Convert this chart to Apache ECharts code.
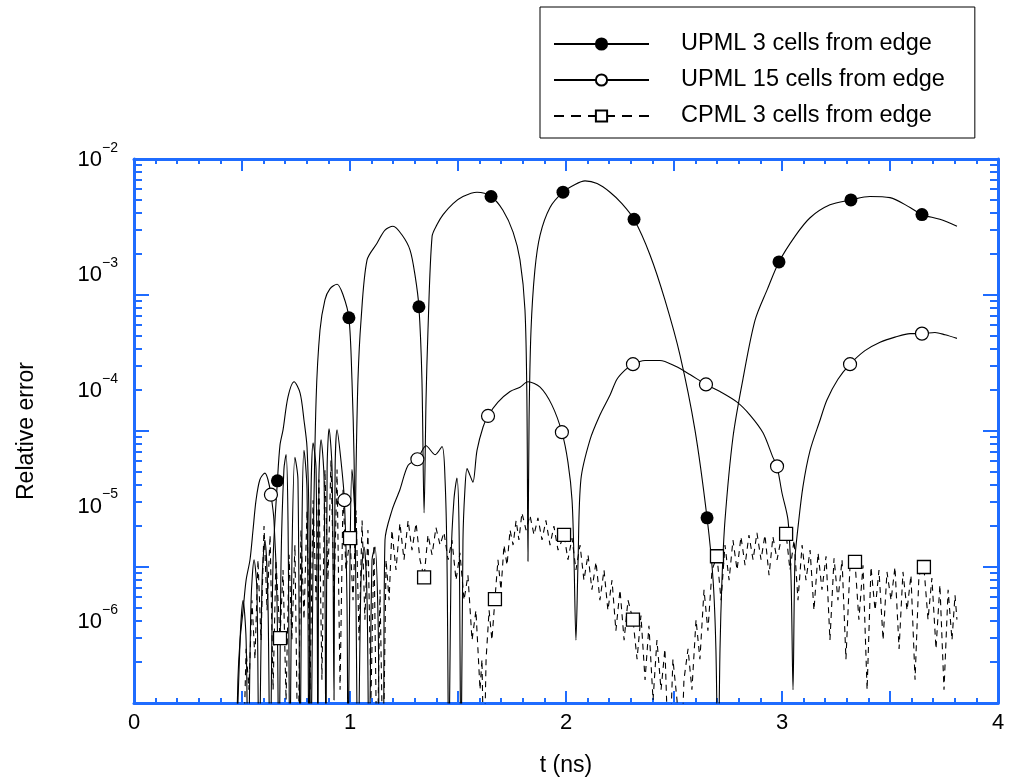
<!DOCTYPE html>
<html>
<head>
<meta charset="utf-8">
<title>Relative error vs time</title>
<script src="https://cdn.jsdelivr.net/npm/echarts@6/dist/echarts.min.js"></script>
<style>
  html, body { margin: 0; padding: 0; background: #fff; }
  #chart { width: 1020px; height: 782px; }
</style>
</head>
<body>
<div id="chart"></div>
<script>
// ---- data: [t (ns), relative error] ----
const upml3 = [
  [0.472,3e-7],[0.491,2.9e-6],[0.505,5.7e-6],[0.519,2.9e-6],[0.528,3e-7],[0.542,5.7e-6],[0.556,1.13e-5],
  [0.569,6.8e-6],[0.579,3e-7],[0.593,8.0e-6],[0.606,1.58e-5],[0.620,5.7e-6],[0.630,3e-7],[0.644,1.13e-5],
  [0.664,4.3e-5],[0.676,7.9e-5],[0.690,1.02e-4],[0.713,1.78e-4],[0.741,2.3e-4],[0.769,1.9e-4],[0.787,1.2e-4],
  [0.801,7.6e-5],[0.810,2.2e-5],[0.819,3e-7],[0.829,1.13e-5],[0.843,1.69e-4],[0.861,5.5e-4],[0.884,9.2e-4],
  [0.907,1.11e-3],[0.940,1.2e-3],[0.968,1.0e-3],[0.995,6.8e-4],[1.009,2.4e-4],[1.019,6.1e-5],[1.023,1.27e-5],
  [1.028,5.2e-5],[1.037,2.4e-4],[1.051,6.5e-4],[1.079,1.81e-3],[1.125,2.4e-3],[1.162,3.0e-3],[1.199,3.2e-3],
  [1.241,2.76e-3],[1.278,2.14e-3],[1.301,1.40e-3],[1.319,8.2e-4],[1.333,2.4e-4],[1.343,2.5e-5],[1.352,1.69e-4],
  [1.361,5.5e-4],[1.380,2.7e-3],[1.403,3.3e-3],[1.431,3.9e-3],[1.477,4.7e-3],[1.523,5.3e-3],[1.588,5.7e-3],
  [1.653,5.3e-3],[1.708,4.2e-3],[1.755,2.9e-3],[1.787,1.81e-3],[1.810,7.8e-4],[1.819,1.69e-4],[1.824,1.1e-5],
  [1.829,1.2e-4],[1.838,5.5e-4],[1.856,1.53e-3],[1.880,2.76e-3],[1.926,4.4e-3],[1.986,5.7e-3],[2.042,6.5e-3],
  [2.088,6.9e-3],[2.144,6.6e-3],[2.204,5.7e-3],[2.259,4.7e-3],[2.315,3.6e-3],[2.389,1.97e-3],[2.458,9.2e-4],
  [2.528,3.6e-4],[2.597,1.02e-4],[2.653,2.3e-5],[2.681,8.0e-6],[2.694,2.5e-6],[2.704,3e-7],[2.713,2.5e-6],
  [2.722,8.0e-6],[2.736,2.2e-5],[2.773,9.0e-5],[2.819,2.4e-4],[2.875,6.5e-4],[2.931,1.09e-3],[2.986,1.75e-3],
  [3.060,2.7e-3],[3.130,3.7e-3],[3.222,4.6e-3],[3.319,5.0e-3],[3.407,5.3e-3],[3.500,5.2e-3],[3.593,4.4e-3],
  [3.648,3.9e-3],[3.731,3.6e-3],[3.810,3.2e-3]
];
const upml3Marks = [0.664, 0.995, 1.319, 1.653, 1.986, 2.315, 2.653, 2.986, 3.319, 3.648];

const upml15 = [
  [0.472,3e-7],[0.481,1.48e-6],[0.491,2.9e-6],[0.505,4.8e-6],[0.519,8.0e-6],[0.537,1.13e-5],[0.551,1.87e-5],
  [0.565,3.1e-5],[0.583,4.4e-5],[0.606,4.9e-5],[0.620,4.4e-5],[0.634,3.4e-5],[0.648,2.2e-5],[0.662,5.7e-6],
  [0.671,3e-7],[0.681,1.13e-5],[0.694,5.2e-5],[0.704,6.7e-5],[0.713,2.2e-5],[0.722,3e-7],[0.731,1.13e-5],
  [0.745,6.4e-5],[0.759,4.4e-5],[0.769,3e-7],[0.778,2.2e-5],[0.787,7.2e-5],[0.801,3.7e-5],[0.810,3e-7],
  [0.819,3.1e-5],[0.829,8.2e-5],[0.843,5.2e-5],[0.852,3e-7],[0.856,4.4e-5],[0.866,8.6e-5],[0.880,4.4e-5],
  [0.889,3e-7],[0.894,5.2e-5],[0.903,1.04e-4],[0.917,5.2e-5],[0.926,1.05e-6],[0.931,5.2e-5],[0.940,1.02e-4],
  [0.958,6.1e-5],[0.974,3.1e-5],[0.986,5.7e-6],[0.991,3e-7],[1.000,1.13e-5],[1.009,5.2e-5],[1.023,2.2e-5],
  [1.037,3e-7],[1.051,8.0e-6],[1.065,1.4e-5],[1.079,5.7e-6],[1.088,3e-7],[1.102,1.13e-5],[1.116,1.4e-5],
  [1.130,4.1e-6],[1.139,3e-7],[1.153,3e-7],[1.162,1.58e-5],[1.194,2.6e-5],[1.231,3.7e-5],[1.269,5.6e-5],
  [1.312,6.2e-5],[1.352,7.8e-5],[1.394,6.7e-5],[1.426,7.7e-5],[1.440,4.4e-5],[1.449,1.13e-5],[1.458,3e-7],
  [1.468,1.13e-5],[1.481,3.1e-5],[1.495,4.5e-5],[1.505,1.87e-5],[1.514,3e-7],[1.523,1.58e-5],[1.532,3.7e-5],
  [1.542,5.3e-5],[1.556,4.7e-5],[1.569,4.2e-5],[1.588,7.2e-5],[1.616,1.07e-4],[1.639,1.29e-4],[1.685,1.63e-4],
  [1.741,1.95e-4],[1.787,2.1e-4],[1.824,2.3e-4],[1.880,2.1e-4],[1.935,1.55e-4],[1.981,9.8e-5],[2.009,5.9e-5],
  [2.028,3.1e-5],[2.037,1.13e-5],[2.046,2.9e-6],[2.056,1.13e-5],[2.069,4.4e-5],[2.111,8.6e-5],[2.157,1.31e-4],
  [2.204,1.84e-4],[2.236,2.4e-4],[2.273,2.8e-4],[2.310,3.1e-4],[2.366,3.3e-4],[2.435,3.3e-4],[2.505,3.0e-4],
  [2.574,2.6e-4],[2.648,2.2e-4],[2.713,1.95e-4],[2.792,1.63e-4],[2.852,1.31e-4],[2.912,9.7e-5],[2.958,6.4e-5],
  [2.977,5.5e-5],[3.000,3.5e-5],[3.028,2.2e-5],[3.042,8.0e-6],[3.051,1.25e-6],[3.060,1.13e-5],[3.074,1.95e-5],
  [3.097,3.9e-5],[3.130,7.2e-5],[3.176,1.2e-4],[3.208,1.69e-4],[3.259,2.4e-4],[3.315,3.1e-4],[3.384,3.9e-4],
  [3.454,4.5e-4],[3.523,4.9e-4],[3.593,5.2e-4],[3.648,5.2e-4],[3.708,5.3e-4],[3.755,5.1e-4],[3.810,4.8e-4]
];
const upml15Marks = [0.634, 0.974, 1.312, 1.639, 1.981, 2.310, 2.648, 2.977, 3.315, 3.648];

const cpml3 = [
  [0.505,3e-7],[0.519,2.5e-6],[0.532,1.25e-6],[0.546,5.7e-6],[0.560,2.1e-6],[0.574,1.13e-5],[0.588,2.9e-6],
  [0.602,2.0e-5],[0.616,4.8e-6],[0.630,1.72e-5],[0.644,1.25e-6],[0.657,1.13e-5],[0.676,3.0e-6],[0.690,9.5e-6],
  [0.704,1.05e-6],[0.718,1.23e-5],[0.731,2.9e-6],[0.745,1.45e-5],[0.759,3e-7],[0.773,1.87e-5],[0.787,4.1e-6],
  [0.801,2.6e-5],[0.815,1.25e-6],[0.829,3.1e-5],[0.843,5.7e-6],[0.856,4.4e-5],[0.870,1.48e-6],[0.884,5.2e-5],
  [0.898,8.0e-6],[0.912,6.1e-5],[0.926,5.7e-6],[0.940,5.2e-5],[0.954,1.25e-6],[0.968,3.7e-5],[0.981,9.5e-6],
  [1.000,1.63e-5],[1.014,5.7e-6],[1.028,2.6e-5],[1.042,2.9e-6],[1.056,2.2e-5],[1.069,4.1e-6],[1.083,1.87e-5],
  [1.097,1.05e-6],[1.111,1.45e-5],[1.125,3e-7],[1.139,6.8e-6],[1.153,3e-7],[1.167,1.13e-5],[1.181,5.7e-6],
  [1.194,1.87e-5],[1.213,9.5e-6],[1.231,2.1e-5],[1.250,1.13e-5],[1.269,2.2e-5],[1.287,1.33e-5],[1.306,2.1e-5],
  [1.324,1.13e-5],[1.343,8.4e-6],[1.361,1.72e-5],[1.380,1.23e-5],[1.398,1.95e-5],[1.417,1.45e-5],[1.435,1.8e-5],
  [1.454,1.13e-5],[1.472,1.58e-5],[1.491,8.0e-6],[1.509,1.27e-5],[1.528,5.7e-6],[1.546,8.7e-6],[1.565,2.9e-6],
  [1.583,4.8e-6],[1.602,1.25e-6],[1.611,2.1e-6],[1.620,3e-7],[1.630,2.1e-6],[1.644,4.8e-6],[1.657,2.9e-6],
  [1.671,5.8e-6],[1.685,1.13e-5],[1.699,6.8e-6],[1.713,1.45e-5],[1.727,1.03e-5],[1.741,1.87e-5],[1.755,1.45e-5],
  [1.769,2.2e-5],[1.782,1.58e-5],[1.796,2.5e-5],[1.815,1.87e-5],[1.833,2.4e-5],[1.852,1.72e-5],[1.870,2.3e-5],
  [1.889,1.58e-5],[1.907,2.2e-5],[1.926,1.45e-5],[1.944,2.0e-5],[1.963,1.33e-5],[1.991,1.72e-5],[2.009,1.13e-5],
  [2.028,1.63e-5],[2.046,9.5e-6],[2.065,1.45e-5],[2.083,8.0e-6],[2.102,1.23e-5],[2.120,6.8e-6],[2.139,1.09e-5],
  [2.157,5.7e-6],[2.176,9.5e-6],[2.194,4.8e-6],[2.213,8.0e-6],[2.231,3.4e-6],[2.250,6.8e-6],[2.269,2.9e-6],
  [2.287,5.7e-6],[2.310,4.1e-6],[2.329,2.1e-6],[2.347,4.4e-6],[2.366,1.48e-6],[2.384,3.7e-6],[2.403,1.05e-6],
  [2.421,2.9e-6],[2.440,1.25e-6],[2.458,2.5e-6],[2.477,3e-7],[2.495,2.1e-6],[2.514,1.05e-6],[2.532,3e-7],
  [2.546,1.48e-6],[2.565,2.5e-6],[2.583,1.25e-6],[2.602,4.1e-6],[2.620,2.1e-6],[2.639,6.8e-6],[2.657,3.4e-6],
  [2.676,9.5e-6],[2.699,1.2e-5],[2.718,5.7e-6],[2.736,1.45e-5],[2.755,8.0e-6],[2.773,1.58e-5],[2.792,9.5e-6],
  [2.810,1.67e-5],[2.829,1.03e-5],[2.847,1.72e-5],[2.866,1.13e-5],[2.884,1.78e-5],[2.903,1.13e-5],[2.921,1.72e-5],
  [2.940,8.7e-6],[2.958,1.67e-5],[2.977,1.13e-5],[2.995,1.58e-5],[3.019,1.75e-5],[3.037,9.5e-6],[3.056,1.58e-5],
  [3.074,5.7e-6],[3.093,1.45e-5],[3.111,8.0e-6],[3.130,1.33e-5],[3.148,4.8e-6],[3.167,1.27e-5],[3.185,6.8e-6],
  [3.204,1.2e-5],[3.222,2.9e-6],[3.241,1.16e-5],[3.259,5.7e-6],[3.278,1.13e-5],[3.296,2.1e-6],[3.315,1.03e-5],
  [3.338,1.09e-5],[3.356,4.1e-6],[3.375,1.03e-5],[3.394,1.25e-6],[3.412,1.0e-5],[3.431,4.8e-6],[3.449,9.5e-6],
  [3.468,2.9e-6],[3.486,9.2e-6],[3.505,5.7e-6],[3.523,1.0e-5],[3.542,2.5e-6],[3.560,9.2e-6],[3.579,4.8e-6],
  [3.597,8.7e-6],[3.616,1.48e-6],[3.634,8.7e-6],[3.657,1.0e-5],[3.676,4.1e-6],[3.694,8.3e-6],[3.713,2.5e-6],
  [3.731,7.4e-6],[3.750,1.25e-6],[3.769,6.8e-6],[3.787,2.9e-6],[3.801,6.2e-6],[3.810,4.1e-6]
];
const cpml3Marks = [0.676, 1.000, 1.343, 1.671, 1.991, 2.310, 2.699, 3.019, 3.338, 3.657];

// ---- axis ticks and labels ----
const xTickLabels = ['0', '1', '2', '3', '4'];
const yDecades = [1e-6, 1e-5, 1e-4, 1e-3, 1e-2];
const yMinorSteps = [2, 3, 4, 5, 6, 7, 8, 9];
const seriesNames = ['UPML 3 cells from edge', 'UPML 15 cells from edge', 'CPML 3 cells from edge'];

const yMinor = [];
yDecades.slice(0, -1).forEach(d => yMinorSteps.forEach(m => yMinor.push(+(m * d).toPrecision(3))));

const FONT = '"Liberation Sans", Arial, Helvetica, sans-serif';
const BLUE = '#1f6cff';
const LOG_MIN = 1e-6, LOG_MAX = 1e-2;

function marksOf(data, marks) {
  return data.filter(p => marks.indexOf(p[0]) !== -1);
}

// frame axis factory: one log y axis per side and tick layer
function frameY(position, ticks, len, showLine) {
  return {
    type: 'log', logBase: 10, gridIndex: 0, position: position,
    min: LOG_MIN, max: LOG_MAX,
    axisLine: { show: showLine, onZero: false, lineStyle: { color: BLUE, width: 3 } },
    axisTick: { show: true, inside: true, length: len, customValues: ticks,
                lineStyle: { color: BLUE, width: 2 } },
    axisLabel: { show: false },
    splitLine: { show: false },
    minorTick: { show: false }
  };
}

function frameX(position, withLabels) {
  return {
    type: 'value', gridIndex: 0, position: position,
    min: 0, max: 4, interval: 0.5,
    axisLine: { show: true, onZero: false, lineStyle: { color: BLUE, width: 3 } },
    axisTick: { show: true, inside: true, length: 12, lineStyle: { color: BLUE, width: 2 } },
    minorTick: { show: true, splitNumber: 5, length: 5, lineStyle: { color: BLUE, width: 2 } },
    splitLine: { show: false },
    axisLabel: withLabels ? {
      show: true, margin: 9, color: '#000', fontFamily: FONT, fontSize: 22,
      formatter: v => (Number.isInteger(v) ? xTickLabels[v] : '')
    } : { show: false }
  };
}

const xBottom = frameX('bottom', true);
xBottom.name = 't (ns)';
xBottom.nameLocation = 'middle';
xBottom.nameGap = 51;
xBottom.nameTextStyle = { color: '#000', fontFamily: FONT, fontSize: 23 };

const yLeft = frameY('left', yDecades, 15, true);
yLeft.name = 'Relative error';
yLeft.nameLocation = 'middle';
yLeft.nameRotate = 90;
yLeft.nameGap = 96;
yLeft.nameTextStyle = { color: '#000', fontFamily: FONT, fontSize: 23 };

const lineCommon = {
  type: 'line', xAxisIndex: 0, yAxisIndex: 0, z: 2,
  showSymbol: false, emphasis: { disabled: true }, silent: true
};
const markCommon = {
  type: 'scatter', xAxisIndex: 0, yAxisIndex: 0, z: 4, symbolSize: 13,
  emphasis: { disabled: true }, silent: true
};

const option = {
  animation: false,
  backgroundColor: '#fff',
  grid: [
    { left: 134, right: 22, top: 159, bottom: 79 },
    // decade labels sit on their own band
    { left: 134, right: 22, top: 155.8, height: 462.4 }
  ],
  legend: {
    data: [
      { name: seriesNames[0] },
      { name: seriesNames[1] },
      { name: seriesNames[2], lineStyle: { type: [10, 7] } }
    ],
    orient: 'vertical',
    left: 540, top: 7,
    padding: [25, 30, 10, 13],
    itemGap: 12,
    itemWidth: 95, itemHeight: 14,
    borderColor: '#000', borderWidth: 1, backgroundColor: '#fff',
    lineStyle: { width: 2 },
    textStyle: { color: '#000', fontFamily: FONT, fontSize: 23.5, padding: [0, 0, 0, 27] },
    selectedMode: false
  },
  xAxis: [
    xBottom,
    frameX('top', false),
    { type: 'value', gridIndex: 1, show: false, min: 0, max: 4 }
  ],
  yAxis: [
    yLeft,
    frameY('left', yMinor, 8, false),
    frameY('right', yDecades, 15, true),
    frameY('right', yMinor, 8, false),
    {
      type: 'log', logBase: 10, gridIndex: 1, position: 'left',
      min: LOG_MIN, max: LOG_MAX,
      axisLine: { show: false, onZero: false },
      axisTick: { show: false },
      splitLine: { show: false },
      axisLabel: {
        show: true, margin: 16, customValues: yDecades,
        formatter: v => '{b|10}{s|\u2212' + Math.round(-Math.log10(v)) + '}',
        rich: {
          b: { fontFamily: FONT, fontSize: 22, color: '#000', lineHeight: 30, verticalAlign: 'bottom' },
          s: { fontFamily: FONT, fontSize: 14, color: '#000', lineHeight: 11, verticalAlign: 'top' }
        }
      }
    }
  ],
  series: [
    Object.assign({}, lineCommon, {
      name: seriesNames[0], data: upml3, symbol: 'circle', smooth: 0.3,
      lineStyle: { color: '#000', width: 1.1 },
      itemStyle: { color: '#000', borderColor: '#000', borderWidth: 1, opacity: 1 }
    }),
    Object.assign({}, lineCommon, {
      name: seriesNames[1], data: upml15, symbol: 'circle', smooth: 0.3,
      lineStyle: { color: '#000', width: 1.1 },
      itemStyle: { color: '#fff', borderColor: '#000', borderWidth: 1.5, opacity: 1 }
    }),
    Object.assign({}, lineCommon, {
      name: seriesNames[2], data: cpml3, symbol: 'rect',
      lineStyle: { color: '#000', width: 1.1, type: [6, 5] },
      itemStyle: { color: '#fff', borderColor: '#000', borderWidth: 1.5, opacity: 1 }
    }),
    Object.assign({}, markCommon, {
      name: 'upml3-marks', data: marksOf(upml3, upml3Marks), symbol: 'circle',
      itemStyle: { color: '#000', opacity: 1 }
    }),
    Object.assign({}, markCommon, {
      name: 'upml15-marks', data: marksOf(upml15, upml15Marks), symbol: 'circle',
      itemStyle: { color: '#fff', borderColor: '#000', borderWidth: 1.2, opacity: 1 }
    }),
    Object.assign({}, markCommon, {
      name: 'cpml3-marks', data: marksOf(cpml3, cpml3Marks), symbol: 'rect',
      itemStyle: { color: '#fff', borderColor: '#000', borderWidth: 1.3, opacity: 1 }
    })
  ]
};

const chart = echarts.init(document.getElementById('chart'), null, { renderer: 'canvas' });
chart.setOption(option);
</script>
</body>
</html>
